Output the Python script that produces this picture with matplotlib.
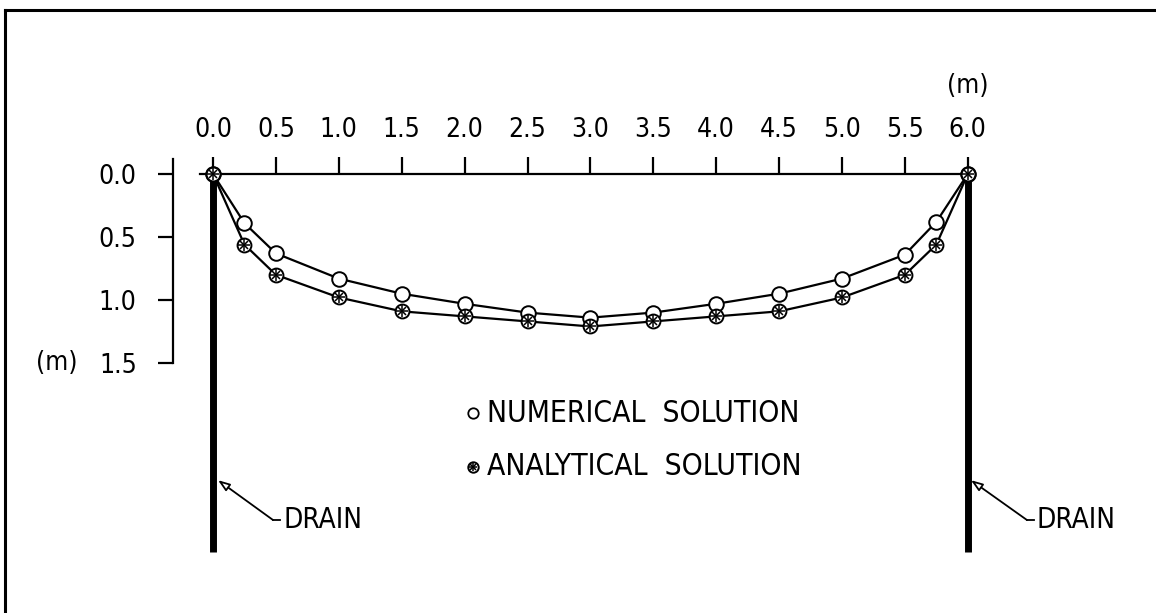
import numpy as np
import matplotlib
matplotlib.use("Agg")
import matplotlib.pyplot as plt
from matplotlib.lines import Line2D

plt.rcParams['font.family'] = ['DejaVu Sans']
plt.rcParams['font.stretch'] = 'condensed'

# data (depth below ground, m)
x_pos = [0.0, 0.25, 0.5, 1.0, 1.5, 2.0, 2.5, 3.0, 3.5, 4.0, 4.5, 5.0, 5.5, 5.75, 6.0]
numerical = [0.0, 0.39, 0.63, 0.83, 0.95, 1.03, 1.10, 1.14, 1.10, 1.03, 0.95, 0.83, 0.64, 0.38, 0.0]
analytical = [0.0, 0.56, 0.80, 0.98, 1.09, 1.13, 1.17, 1.21, 1.17, 1.13, 1.09, 0.98, 0.80, 0.56, 0.0]

x_ticks = [0.0, 0.5, 1.0, 1.5, 2.0, 2.5, 3.0, 3.5, 4.0, 4.5, 5.0, 5.5, 6.0]
y_ticks = [0.0, 0.5, 1.0, 1.5]
drain_x = [0.0, 6.0]
drain_depth = 3.0

W, H = 1156, 613
fig = plt.figure(figsize=(W / 100, H / 100), dpi=100)
ax = fig.add_axes([0, 0, 1, 1])
ax.set_xlim(-213 / 125.8, (W - 213) / 125.8)
ax.set_ylim((H - 174) / 126.0, -174 / 126.0)

FS = 19
LFS = 21.5


def star_marker(x, y, ms):
    ax.plot(x, y, 'o', ms=ms, mfc='white', mec='black', mew=1.4, zorder=5)
    ax.plot(x, y, '+', ms=ms * 0.85, mec='black', mew=1.1, zorder=5)
    ax.plot(x, y, 'x', ms=ms * 0.6, mec='black', mew=1.1, zorder=5)


# drains
for dx in drain_x:
    ax.plot([dx, dx], [0, drain_depth], color='black', lw=5, solid_capstyle='butt', zorder=3)

# curves
ax.plot(x_pos, numerical, color='black', lw=1.6, zorder=4)
ax.plot(x_pos, numerical, 'o', ms=10.5, mfc='white', mec='black', mew=1.4, zorder=5)
ax.plot(x_pos, analytical, color='black', lw=1.6, zorder=4)
star_marker(x_pos, analytical, 10)

# axes as spines
for s in ['right', 'bottom']:
    ax.spines[s].set_visible(False)
ax.spines['top'].set_position(('data', 0))
ax.spines['top'].set_bounds(-0.1, 6.0)
ax.spines['left'].set_position(('data', -0.32))
ax.spines['left'].set_bounds(-0.12, 1.5)
for s in ['top', 'left']:
    ax.spines[s].set_linewidth(1.6)

ax.xaxis.tick_top()
ax.set_xticks(x_ticks)
ax.set_xticklabels(['%.1f' % v for v in x_ticks])
ax.set_yticks(y_ticks)
ax.set_yticklabels(['%.1f' % v for v in y_ticks])
ax.tick_params(axis='x', direction='out', length=12, width=1.6, pad=10, labelsize=FS)
ax.tick_params(axis='y', direction='out', length=11, width=1.6, pad=15, labelsize=FS)

ax.text(6.0, -0.7, '(m)', ha='center', va='center', fontsize=FS)
ax.text(-1.24, 1.5, '(m)', ha='center', va='center', fontsize=FS)

# legend
ax.plot(2.07, 1.897, 'o', ms=7.5, mfc='none', mec='black', mew=1.3)
ax.text(2.18, 1.897, 'NUMERICAL  SOLUTION', ha='left', va='center', fontsize=LFS)
star_marker(2.07, 2.325, 7.5)
ax.text(2.18, 2.325, 'ANALYTICAL  SOLUTION', ha='left', va='center', fontsize=LFS)

# drain labels
for tip_x, elbow_x in [(0.04, 0.477), (6.025, 6.47)]:
    ax.annotate('', xy=(tip_x, 2.43), xytext=(elbow_x, 2.746),
                arrowprops=dict(arrowstyle='-|>,head_length=0.7,head_width=0.25',
                                lw=1.3, fc='white', ec='black', shrinkA=0, shrinkB=0))
    ax.plot([elbow_x, elbow_x + 0.056], [2.746, 2.746], color='black', lw=1.3)
    ax.text(elbow_x + 0.08, 2.746, 'DRAIN', ha='left', va='center', fontsize=20)

# frame
fig.add_artist(Line2D([5 / W, 1], [1 - 10 / H, 1 - 10 / H], color='black', lw=2.2))
fig.add_artist(Line2D([5 / W, 5 / W], [0, 1 - 10 / H], color='black', lw=2.2))

fig.savefig('out.png', dpi=100)
